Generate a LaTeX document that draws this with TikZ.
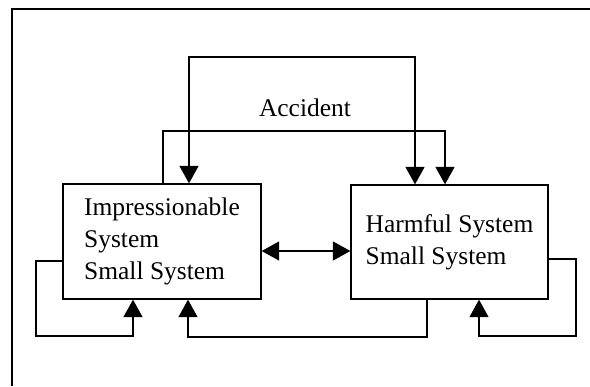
\documentclass[tikz,border=0pt]{standalone}
\usepackage{fontspec}
\setmainfont{Liberation Serif}
\usetikzlibrary{arrows.meta}

\begin{document}
\begin{tikzpicture}%
        [x=0.02cm,
        y=-0.02cm,
        line width=0.75pt,
        sysbox/.style={draw, rectangle, align=left, inner sep=0pt,
                font=\fontsize{14.5}{18.2}\selectfont},
        label/.style={font=\fontsize{14.5}{18.2}\selectfont, inner sep=0pt},
        flow/.style={-{Triangle[width=0.38cm,length=0.35cm]}},
        both/.style={{Triangle[width=0.38cm,length=0.35cm]}-{Triangle[width=0.38cm,length=0.35cm]}}]

    \useasboundingbox (0,0) rectangle (590,386);

    %% Drawing the frame
    \draw (12,386) -- (12,9) -- (590,9);

    %% The two systems
    \node[sysbox, minimum width=3.96cm, minimum height=2.3cm] (imp) at (162,241.5)
        {Impressionable\\System\\Small System};
    \node[sysbox, minimum width=3.94cm, minimum height=2.28cm] (harm) at (449.5,242)
        {Harmful System\\Small System};
    \node[label] (acc) at (305,108) {Accident};

    %% Routing points
    \coordinate (topL) at (189,57);
    \coordinate (topR) at (415,57);
    \coordinate (midL) at (163,131);
    \coordinate (midR) at (445,131);
    \coordinate (loopL) at (36,336);
    \coordinate (inL) at (133,336);
    \coordinate (backR) at (427,337);
    \coordinate (backL) at (188,337);
    \coordinate (loopR) at (576,336);
    \coordinate (inR) at (479,336);

    %% Accident paths
    \draw[both] (imp.north -| topL) -- (topL) -- (topR) -- (harm.north -| topR);
    \draw[flow] (imp.north -| midL) -- (midL) -- (midR) -- (harm.north -| midR);
    %% Between the systems
    \draw[both] ([yshift=-0.19cm]imp.east) -- ([yshift=-0.19cm]imp.east -| harm.west);
    %% Loops below
    \draw[flow] ([yshift=-0.39cm]imp.west) -| (loopL) -- (inL) -- (imp.south -| inL);
    \draw[flow] (harm.south -| backR) -- (backR) -- (backL) -- (imp.south -| backL);
    \draw[flow] ([yshift=-0.34cm]harm.east) -| (loopR) -- (inR) -- (harm.south -| inR);
    %%
\end{tikzpicture}
\end{document}
